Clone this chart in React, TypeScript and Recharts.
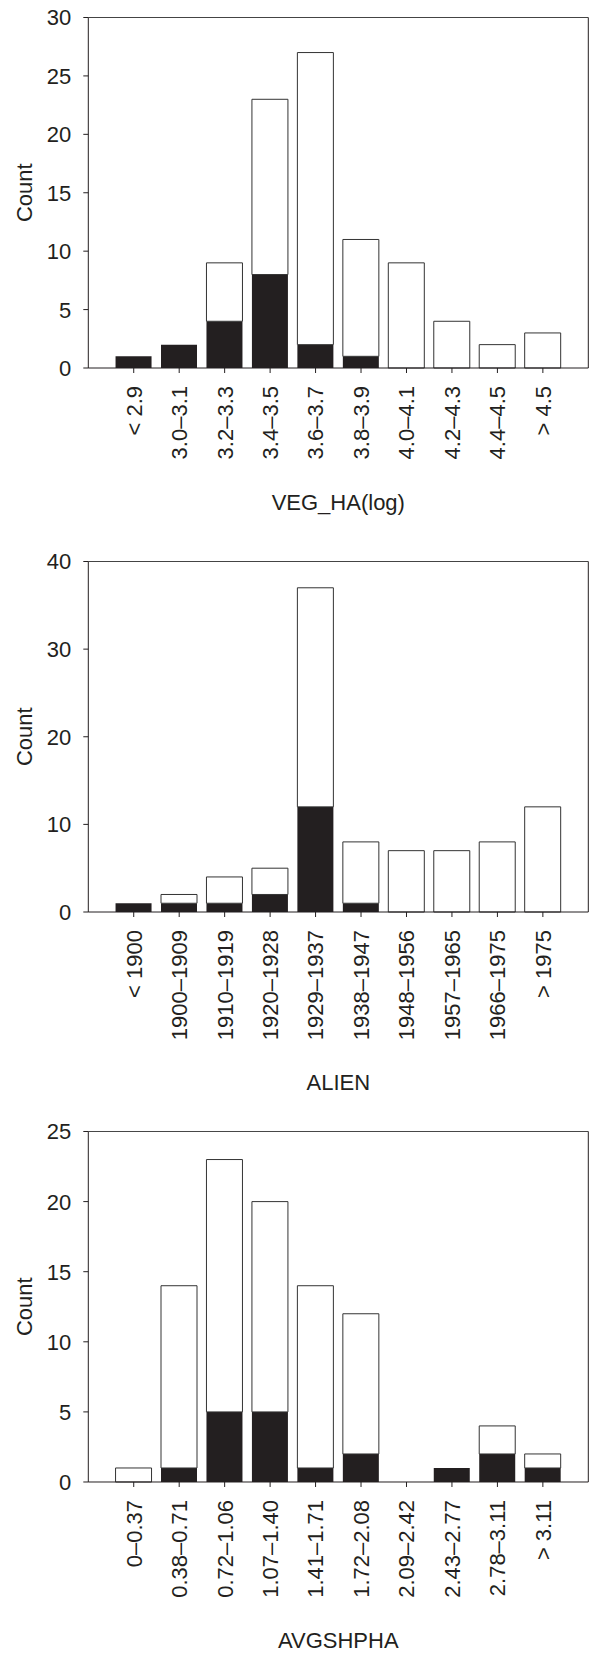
import React from 'react';
import * as R from 'recharts';
import { BarChart, Bar, XAxis, YAxis } from 'recharts';

// ---- Panel 1: VEG_HA(log)
const vegCategories = ['< 2.9', '3.0–3.1', '3.2–3.3', '3.4–3.5', '3.6–3.7', '3.8–3.9', '4.0–4.1', '4.2–4.3', '4.4–4.5', '> 4.5'];
const vegFilled = [1, 2, 4, 8, 2, 1, 0, 0, 0, 0];
const vegOpen = [0, 0, 5, 15, 25, 10, 9, 4, 2, 3];
const vegTicks = [0, 5, 10, 15, 20, 25, 30];

// ---- Panel 2: ALIEN
const alienCategories = ['< 1900', '1900–1909', '1910–1919', '1920–1928', '1929–1937', '1938–1947', '1948–1956', '1957–1965', '1966–1975', '> 1975'];
const alienFilled = [1, 1, 1, 2, 12, 1, 0, 0, 0, 0];
const alienOpen = [0, 1, 3, 3, 25, 7, 7, 7, 8, 12];
const alienTicks = [0, 10, 20, 30, 40];

// ---- Panel 3: AVGSHPHA
const shpCategories = ['0–0.37', '0.38–0.71', '0.72–1.06', '1.07–1.40', '1.41–1.71', '1.72–2.08', '2.09–2.42', '2.43–2.77', '2.78–3.11', '> 3.11'];
const shpFilled = [0, 1, 5, 5, 1, 2, 0, 1, 2, 1];
const shpOpen = [1, 13, 18, 15, 13, 10, 0, 0, 2, 1];
const shpTicks = [0, 5, 10, 15, 20, 25];

const INK = '#231f20';
const FONT = '"Liberation Sans", Arial, Helvetica, sans-serif';
const FS = 22;

function RotatedTick(props: any) {
  const { x, y, payload } = props;
  return (
    <text
      x={x}
      y={y}
      transform={`rotate(-90, ${x}, ${y})`}
      textAnchor="end"
      dy="0.36em"
      fontSize={FS}
      fontFamily={FONT}
      fill={INK}
    >
      {payload.value}
    </text>
  );
}

function YTick(props: any) {
  const { x, y, payload } = props;
  return (
    <text x={x} y={y} textAnchor="end" dy="0.36em" fontSize={FS} fontFamily={FONT} fill={INK}>
      {payload.value}
    </text>
  );
}

function XTitle(props: any) {
  const { viewBox, title, baseline } = props;
  if (!viewBox) return null;
  const cx = viewBox.x + viewBox.width / 2;
  return (
    <text x={cx} y={viewBox.y + baseline} textAnchor="middle" fontSize={FS} fontFamily={FONT} fill={INK}>
      {title}
    </text>
  );
}

function YTitle(props: any) {
  const { viewBox } = props;
  if (!viewBox) return null;
  const cx = viewBox.x + 24.5;
  const cy = viewBox.y + viewBox.height / 2;
  return (
    <text
      x={cx}
      y={cy}
      transform={`rotate(-90, ${cx}, ${cy})`}
      textAnchor="middle"
      dy="0.36em"
      fontSize={FS}
      fontFamily={FONT}
      fill={INK}
    >
      Count
    </text>
  );
}

// Frame around the plot area.
function PlotFrame() {
  const anyR = R as any;
  let area: any = null;
  if (typeof anyR.usePlotArea === 'function') {
    area = anyR.usePlotArea();
  } else if (typeof anyR.useOffset === 'function') {
    const off = anyR.useOffset();
    const w = anyR.useChartWidth ? anyR.useChartWidth() : 0;
    const h = anyR.useChartHeight ? anyR.useChartHeight() : 0;
    if (off) area = { x: off.left, y: off.top, width: w - off.left - off.right, height: h - off.top - off.bottom };
  }
  if (!area) return null;
  const { x, y, width, height } = area;
  return (
    <g>
      <line x1={x} y1={y} x2={x + width} y2={y} stroke="#444" strokeWidth={1} />
      <line x1={x + width} y1={y} x2={x + width} y2={y + height} stroke={INK} strokeWidth={1} />
    </g>
  );
}

const PLOT_H = 350.5;
const MARGIN_TOP = 17.5;

function Histogram(props: {
  top: number;
  categories: string[];
  filled: number[];
  open: number[];
  ticks: number[];
  title: string;
  baseline: number;
  axisHeight: number;
}) {
  const { top, categories, filled, open, ticks, title, baseline, axisHeight } = props;
  const data = categories.map((c, i) => ({ cat: c, filled: filled[i], open: open[i] }));
  const yMax = ticks[ticks.length - 1];
  const height = MARGIN_TOP + PLOT_H + axisHeight;
  return (
    <div style={{ position: 'absolute', left: 0, top }}>
      <BarChart
        width={592}
        height={height}
        data={data}
        margin={{ top: MARGIN_TOP, right: 3.7, bottom: 0, left: 0 }}
        barCategoryGap="10%"
      >
        <XAxis
          dataKey="cat"
          type="category"
          interval={0}
          padding={{ left: 22.7, right: 22.7 }}
          height={axisHeight}
          tickSize={5}
          tickMargin={13}
          tick={<RotatedTick />}
          axisLine={{ stroke: INK, strokeWidth: 1 }}
          tickLine={{ stroke: INK, strokeWidth: 1 }}
          label={<XTitle title={title} baseline={baseline} />}
        />
        <YAxis
          type="number"
          domain={[0, yMax]}
          ticks={ticks}
          interval={0}
          width={88.3}
          tickSize={5}
          tickMargin={12}
          tick={<YTick />}
          axisLine={{ stroke: INK, strokeWidth: 1 }}
          tickLine={{ stroke: INK, strokeWidth: 1 }}
          label={<YTitle />}
        />
        <Bar dataKey="filled" stackId="s" fill={INK} isAnimationActive={false} />
        <Bar dataKey="open" stackId="s" fill="#ffffff" stroke="#333333" strokeWidth={1} isAnimationActive={false} />
        <PlotFrame />
      </BarChart>
    </div>
  );
}

export default function App() {
  return (
    <div style={{ position: 'absolute', left: 0, top: 0, width: 592, height: 1654, background: '#fff', overflow: 'hidden' }}>
      <Histogram
        top={0}
        categories={vegCategories}
        filled={vegFilled}
        open={vegOpen}
        ticks={vegTicks}
        title="VEG_HA(log)"
        baseline={141.5}
        axisHeight={176}
      />
      <Histogram
        top={544.2}
        categories={alienCategories}
        filled={alienFilled}
        open={alienOpen}
        ticks={alienTicks}
        title="ALIEN"
        baseline={178}
        axisHeight={202}
      />
      <Histogram
        top={1114.2}
        categories={shpCategories}
        filled={shpFilled}
        open={shpOpen}
        ticks={shpTicks}
        title="AVGSHPHA"
        baseline={166.5}
        axisHeight={171.8}
      />
    </div>
  );
}
